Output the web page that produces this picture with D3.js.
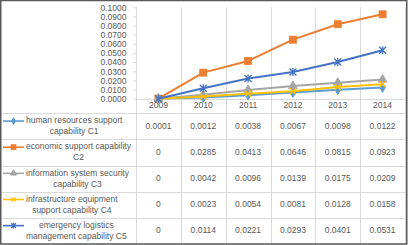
<!DOCTYPE html>
<html>
<head>
<meta charset="utf-8">
<script src="https://cdn.jsdelivr.net/npm/d3@7"></script>
<style>
  html, body { margin: 0; padding: 0; background: #fff; }
  svg { display: block; }
</style>
</head>
<body>
<div id="chart"></div>
<script>
// chart data
const years = ['2009', '2010', '2011', '2012', '2013', '2014'];
const yTicks = [0, 0.01, 0.02, 0.03, 0.04, 0.05, 0.06, 0.07, 0.08, 0.09, 0.1];

const c1 = [0.0001, 0.0012, 0.0038, 0.0067, 0.0098, 0.0122];
const c2 = [0, 0.0285, 0.0413, 0.0646, 0.0815, 0.0923];
const c3 = [0, 0.0042, 0.0096, 0.0139, 0.0175, 0.0209];
const c4 = [0, 0.0023, 0.0054, 0.0081, 0.0128, 0.0158];
const c5 = [0, 0.0114, 0.0221, 0.0293, 0.0401, 0.0531];

const seriesNames = [
    ['human resources support', 'capability C1'],
    ['economic support capability', 'C2'],
    ['information system security', 'capability C3'],
    ['infrastructure equipment', 'support capability C4'],
    ['emergency logistics', 'management capability C5']
];
const seriesValues = [c1, c2, c3, c4, c5];
const seriesColors = ['#5B9BD5', '#ED7D31', '#A5A5A5', '#FFC000', '#4472C4'];
const seriesMarkers = ['diamond', 'square', 'triangle', 'cross', 'star'];

const width = 408, height = 245;
const textColor = '#595959';
const gridColor = '#D9D9D9';
const font = '"Liberation Sans", Arial, sans-serif';
const fontSize = 8.5;

const svg = d3.select('#chart')
    .append('svg')
    .attr('width', width)
    .attr('height', height)
    .style('font-family', font);

svg.append('rect')
    .attr('width', width).attr('height', height)
    .attr('fill', '#fff');

// scales
const x = d3.scaleBand().domain(years).range([136, 405]);
const y = d3.scaleLinear().domain([0, 0.1]).range([98.7, 7.3]);

const tableTop = 113.3, tableBottom = 244;
const rowH = (tableBottom - tableTop) / seriesValues.length;

// vertical grid lines (plot + table)
const vx = [x.range()[0]].concat(years.map(d => x(d) + x.bandwidth()));
svg.append('g')
    .selectAll('line')
    .data(vx)
    .enter()
    .append('line')
    .attr('x1', d => Math.round(d) + 0.5)
    .attr('x2', d => Math.round(d) + 0.5)
    .attr('y1', y(0.1))
    .attr('y2', tableBottom)
    .attr('stroke', gridColor)
    .attr('stroke-width', 1);

// table horizontal lines
const rowLines = d3.range(seriesValues.length).map(i => tableTop + i * rowH);
svg.append('g')
    .selectAll('line')
    .data(rowLines)
    .enter()
    .append('line')
    .attr('x1', 0)
    .attr('x2', x.range()[1])
    .attr('y1', d => Math.round(d) + 0.5)
    .attr('y2', d => Math.round(d) + 0.5)
    .attr('stroke', gridColor);

// x axis line at zero
svg.append('line')
    .attr('x1', x.range()[0])
    .attr('x2', x.range()[1])
    .attr('y1', Math.round(y(0)) + 0.5)
    .attr('y2', Math.round(y(0)) + 0.5)
    .attr('stroke', gridColor);

// y axis
const yAxis = svg.append('g')
    .attr('transform', `translate(${Math.round(x.range()[0]) + 0.5},0)`)
    .call(d3.axisLeft(y).tickValues(yTicks).tickFormat(d3.format('.4f')).tickSize(3).tickPadding(7));
yAxis.select('.domain').remove();
yAxis.selectAll('line').attr('stroke', gridColor);
yAxis.selectAll('text')
    .attr('fill', textColor)
    .style('font-size', fontSize + 'px')
    .style('font-family', font);

// category labels
svg.append('g')
    .selectAll('text')
    .data(years)
    .enter()
    .append('text')
    .attr('x', d => x(d) + x.bandwidth() / 2)
    .attr('y', 106)
    .attr('text-anchor', 'middle')
    .attr('dominant-baseline', 'middle')
    .attr('fill', textColor)
    .style('font-size', fontSize + 'px')
    .text(d => d);

// marker drawing, k scales the marker
function drawMarker(g, type, color, k) {
    if (type === 'diamond') {
        g.append('path').attr('d', d3.symbol(d3.symbolDiamond, 26 * k * k)())
            .attr('fill', color).attr('stroke', color);
    } else if (type === 'square') {
        const s = 7 * k;
        g.append('rect').attr('x', -s / 2).attr('y', -s / 2).attr('width', s).attr('height', s)
            .attr('fill', color).attr('stroke', color).attr('stroke-width', 0.8);
    } else if (type === 'triangle') {
        g.append('path').attr('d', d3.symbol(d3.symbolTriangle, 32 * k * k)())
            .attr('fill', color).attr('stroke', color);
    } else if (type === 'cross') {
        const s = 3 * k;
        g.append('path').attr('d', `M${-s},${-s}L${s},${s}M${-s},${s}L${s},${-s}`)
            .attr('stroke', color).attr('stroke-width', 1.3);
    } else if (type === 'star') {
        const s = 3.5 * k;
        g.append('path').attr('d', `M${-s},${-s}L${s},${s}M${-s},${s}L${s},${-s}M0,${-s - 0.5}L0,${s + 0.5}`)
            .attr('stroke', color).attr('stroke-width', 1.3);
    }
}

const line = d3.line()
    .x((d, i) => x(years[i]) + x.bandwidth() / 2)
    .y(d => y(d));

// series lines and markers (draw in order so later ones are on top)
seriesValues.forEach((vals, s) => {
    const color = seriesColors[s];
    svg.append('path')
        .datum(vals)
        .attr('d', line)
        .attr('fill', 'none')
        .attr('stroke', color)
        .attr('stroke-width', 2)
        .attr('stroke-linejoin', 'round');
    vals.forEach((v, i) => {
        const g = svg.append('g')
            .attr('transform', `translate(${x(years[i]) + x.bandwidth() / 2},${y(v)})`);
        drawMarker(g, seriesMarkers[s], color, 1);
    });
});

// data table
seriesValues.forEach((vals, s) => {
    const top = tableTop + s * rowH;
    const mid = top + rowH / 2;
    const line1Y = mid - 5.3, line2Y = mid + 5.7;

    // legend key
    svg.append('line')
        .attr('x1', 3).attr('x2', 24)
        .attr('y1', line1Y).attr('y2', line1Y)
        .attr('stroke', seriesColors[s]).attr('stroke-width', 1.6);
    const kg = svg.append('g').attr('transform', `translate(13.5,${line1Y})`);
    drawMarker(kg, seriesMarkers[s], seriesColors[s], 0.7);

    // series name: block starting after key, lines centred within block
    const tg = svg.append('g');
    const t1 = tg.append('text').attr('y', line1Y).text(seriesNames[s][0]);
    const t2 = tg.append('text').attr('y', line2Y).text(seriesNames[s][1]);
    tg.selectAll('text')
        .attr('text-anchor', 'middle')
        .attr('dominant-baseline', 'middle')
        .attr('fill', textColor)
        .style('font-size', fontSize + 'px');
    const w = Math.max(t1.node().getComputedTextLength(), t2.node().getComputedTextLength());
    tg.selectAll('text').attr('x', 26 + w / 2);

    // values
    svg.append('g')
        .selectAll('text')
        .data(vals)
        .enter()
        .append('text')
        .attr('x', (d, i) => x(years[i]) + x.bandwidth() / 2)
        .attr('y', mid)
        .attr('text-anchor', 'middle')
        .attr('dominant-baseline', 'middle')
        .attr('fill', textColor)
        .style('font-size', fontSize + 'px')
        .text(d => d === 0 ? '0' : d3.format('.4f')(d));
});

// outer frame
svg.append('rect')
    .attr('x', 0.75).attr('y', 0.5)
    .attr('width', width - 2).attr('height', height - 1.5)
    .attr('fill', 'none')
    .attr('stroke', '#595959')
    .attr('stroke-width', 1.5);
</script>
</body>
</html>
